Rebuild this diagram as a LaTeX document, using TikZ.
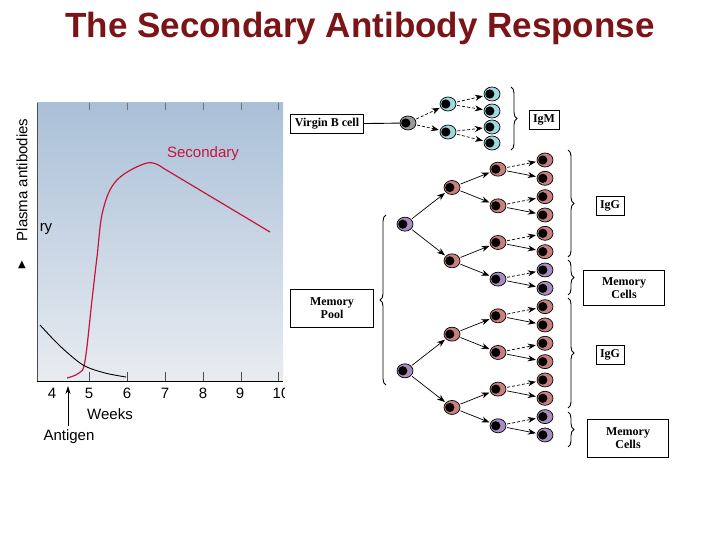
\documentclass[tikz,border=0pt]{standalone}
\usepackage{fontspec}
\setmainfont{Liberation Serif}
\setsansfont{Liberation Sans}
\newfontfamily\dejavu{DejaVu Sans}
\usetikzlibrary{shapes.geometric,arrows.meta,decorations.pathreplacing}
\definecolor{titlered}{HTML}{7B1416}
\definecolor{cred}{HTML}{C88080}
\definecolor{cpur}{HTML}{A98CC0}
\definecolor{ccyan}{HTML}{A0D8E0}
\definecolor{cgray}{HTML}{9A9A9A}
\definecolor{curvered}{HTML}{C8143C}
\tikzset{
 cell/.style={ellipse,draw=black,line width=0.7pt,minimum width=16,minimum height=14,inner sep=0,
   path picture={\fill[black] ([xshift=-2.2pt]path picture bounding box.center) circle (4.6pt);}},
 lbox/.style={draw,line width=0.9pt,font=\bfseries\fontsize{12}{13}\selectfont,align=center,inner sep=4pt},
 arr/.style={-{Stealth[length=8pt,width=6pt]},line width=0.7pt,shorten >=1pt,shorten <=1pt},
 darr/.style={arr,dash pattern=on 3pt off 2pt},
 brc/.style={decorate,decoration={brace,amplitude=6pt},line width=0.9pt},
 gtxt/.style={font=\sffamily\fontsize{15}{16}\selectfont}
}
\begin{document}
\begin{tikzpicture}[x=1pt,y=-1pt]
\useasboundingbox (0,0) rectangle (720,540);
\node[font=\sffamily\bfseries\fontsize{35}{37}\selectfont,text=titlered] (title) at (360,28) {The Secondary Antibody Response};
% graph
\shade[top color={rgb,255:red,170;green,192;blue,216},bottom color={rgb,255:red,232;green,236;blue,241}] (37,103) rectangle (283,381);
\draw[line width=0.6pt,black!70] (37,103) -- (37,381);
\draw[line width=0.8pt] (37,381) -- (283,381);
\foreach \x in {89,127,165,203,241,278}{
  \draw[black!55,line width=0.6pt] (\x,103) -- (\x,110);
  \draw[black!70,line width=0.6pt] (\x,381) -- (\x,372);}
\foreach \x/\t in {52/4,89/5,127/6,165/7,203/8,240/9}{\node[gtxt] (w\t) at (\x,393) {\t};}
\begin{scope}\clip (270,380) rectangle (284,405);\node[gtxt] (w10) at (281,393) {10};\end{scope}
\node[gtxt] (weeks) at (110,414) {Weeks};
\node[gtxt] (antigen) at (69,437) {Antigen};
\draw[-{Stealth[length=8pt,width=5pt]},line width=0.5pt] (antigen.north -| 68,0) -- (68,386);
\node[gtxt,rotate=90] (ylab) at (22,180) {Plasma antibodies};
\node[font=\dejavu\fontsize{10}{10}\selectfont] (ytri) at (22,265) {▲};
\node[gtxt] (ry) at (46,229) {ry};
\node[gtxt,text=curvered] (sec) at (203,154) {Secondary};
\draw[curvered,line width=1.2pt] plot[smooth,tension=0.6] coordinates {(67,378) (79,373) (85,361) (92,300) (97,257) (103,210) (117,180) (147,163) (163,168)} -- (270,232);
\draw[black,line width=0.9pt] plot[smooth] coordinates {(40,325) (60,346) (83,365) (105,373) (126,377)};
% top: virgin
\node[lbox] (virgin) at (327,124) {Virgin B cell};
\node[cell,fill=cgray] (g) at (408,123) {};
\draw[line width=0.9pt] (virgin) -- (g);
\node[cell,fill=ccyan] (c1) at (448,104) {};
\node[cell,fill=ccyan] (c2) at (448,132) {};
\foreach \i/\y in {1/94,2/111,3/127,4/143}{\node[cell,fill=ccyan] (m\i) at (492,\y) {};}
\draw[darr] (g) -- (c1); \draw[darr] (g) -- (c2);
\draw[darr] (c1) -- (m1); \draw[darr] (c1) -- (m2);
\draw[darr] (c2) -- (m3); \draw[darr] (c2) -- (m4);
\draw[brc] (511,87) -- (511,150);
\node[lbox] (igm) at (544,120) {IgM};
% trees
\foreach \i/\c in {1/cred,2/cred,3/cred,4/cred,5/cred,6/cred,7/cpur,8/cpur,9/cred,10/cred,11/cred,12/cred,13/cred,14/cred,15/cpur,16/cpur}{
  \node[cell,fill=\c] (f\i) at (545,{160+(\i-1)*18.33}) {};}
\foreach \j/\c in {1/cred,2/cred,3/cred,4/cpur,5/cred,6/cred,7/cred,8/cpur}{
  \node[cell,fill=\c] (s\j) at (498,{160+(2*\j-1.5)*18.33}) {};}
\foreach \k in {1,...,4}{\node[cell,fill=cred] (p\k) at (452,{160+(4*\k-2.5)*18.33}) {};}
\foreach \r in {1,2}{\node[cell,fill=cpur] (r\r) at (405,{160+(8*\r-4.5)*18.33}) {};}
\foreach \r/\a/\b in {1/1/2,2/3/4}{\draw[arr] (r\r) -- (p\a); \draw[arr] (r\r) -- (p\b);}
\foreach \k/\a/\b in {1/1/2,2/3/4,3/5/6,4/7/8}{\draw[arr] (p\k) -- (s\a); \draw[arr] (p\k) -- (s\b);}
\foreach \j/\a/\b in {1/1/2,2/3/4,3/5/6,4/7/8,5/9/10,6/11/12,7/13/14,8/15/16}{\draw[darr] (s\j) -- (f\a); \draw[arr] (s\j) -- (f\b);}
% braces and labels
\draw[brc] (568,150) -- (568,257);
\node[lbox] (igg1) at (610,206) {IgG};
\draw[brc] (568,260) -- (568,295);
\node[lbox,minimum width=81,minimum height=35] (mem1) at (624,288) {Memory\\Cells};
\draw[brc] (568,298) -- (568,408);
\node[lbox] (igg2) at (610,355) {IgG};
\draw[brc] (568,412) -- (568,447);
\node[lbox,minimum width=81,minimum height=38] (mem2) at (628,438) {Memory\\Cells};
\node[lbox,minimum width=83,minimum height=38] (pool) at (332,308) {Memory\\Pool};
\draw[brc] (386,385) -- (386,215);
\end{tikzpicture}
\end{document}
